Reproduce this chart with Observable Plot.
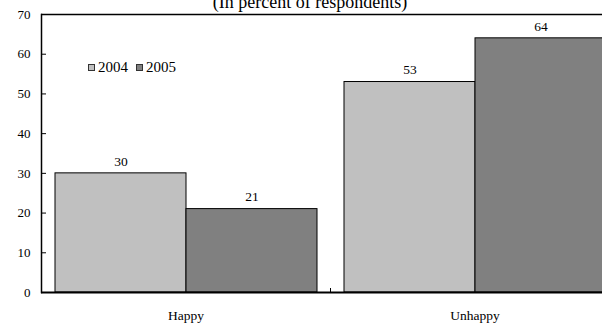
<!DOCTYPE html>
<html><head><meta charset="utf-8">
<script src="https://cdn.jsdelivr.net/npm/d3@7"></script>
<script src="https://cdn.jsdelivr.net/npm/@observablehq/plot@0.6"></script>
<style>
body{margin:0;background:#fff;overflow:hidden}
#wrap{position:relative;width:602px;height:324px;overflow:hidden;font-family:"Liberation Serif","Times New Roman",serif;color:#000}
#title{position:absolute;left:0;width:620px;text-align:center;top:-7px;font-size:18px;line-height:18px;white-space:nowrap}
#legend{position:absolute;left:88px;top:58px;font-size:15px;line-height:18px;display:flex;align-items:center}
.sw{display:inline-block;width:5px;height:5px;border:1px solid #333;margin-right:3px}
.sw2{margin-left:8px}
</style></head><body><div id="wrap"><div id="chart"></div><div id="title"></div><div id="legend"></div></div>
<script>
const categories = ["Happy", "Unhappy"];
const years = ["2004", "2005"];
const values2004 = [30, 53];
const values2005 = [21, 64];
const yTicks = [0, 10, 20, 30, 40, 50, 60, 70];
const titleText = "(In percent of respondents)";
const colors = ["#c0c0c0", "#808080"];

const data = categories.flatMap((c, i) => [
  {category: c, year: years[0], value: values2004[i]},
  {category: c, year: years[1], value: values2005[i]}
]);

const chart = Plot.plot({
  width: 602, height: 324,
  marginLeft: 41, marginRight: -17, marginTop: 14, marginBottom: 32,
  style: {fontFamily: '"Liberation Serif", "Times New Roman", serif', fontSize: "13px", background: "#fff", color: "#000", overflow: "hidden"},
  fx: {domain: categories, padding: 0, label: null},
  x: {domain: years, paddingInner: 0, paddingOuter: 0.103, axis: null},
  y: {domain: [0, 70], label: null},
  color: {domain: years, range: colors},
  marks: [
    Plot.barY(data, {fx: "category", x: "year", y: "value", fill: "year", stroke: "#000", strokeWidth: 1}),
    Plot.text(data, {fx: "category", x: "year", y: "value", text: d => String(d.value), dy: -12, fontSize: 13.5}),
    Plot.ruleY([0], {stroke: "#000", strokeWidth: 2}),
    Plot.ruleY([70], {stroke: "#000", strokeWidth: 1.5}),
    Plot.frame({anchor: "left", insetTop: 274, stroke: "#000"}),
    Plot.frame({anchor: "left", facetAnchor: "left", stroke: "#000", strokeWidth: 1.5}),
    Plot.axisY({ticks: yTicks, tickSize: -5, tickPadding: 16, tickFormat: d => String(d), fontSize: 13, label: null}),
    Plot.axisFx({anchor: "bottom", tickSize: 0, tickPadding: 18, label: null, fontSize: 13.5})
  ]
});
document.getElementById("chart").appendChild(chart);
document.getElementById("title").textContent = titleText;
const legend = document.getElementById("legend");
years.forEach((y, i) => {
  const sw = document.createElement("span");
  sw.className = "sw" + (i ? " sw2" : "");
  sw.style.background = colors[i];
  legend.appendChild(sw);
  const t = document.createElement("span");
  t.textContent = y;
  legend.appendChild(t);
});
</script></body></html>
